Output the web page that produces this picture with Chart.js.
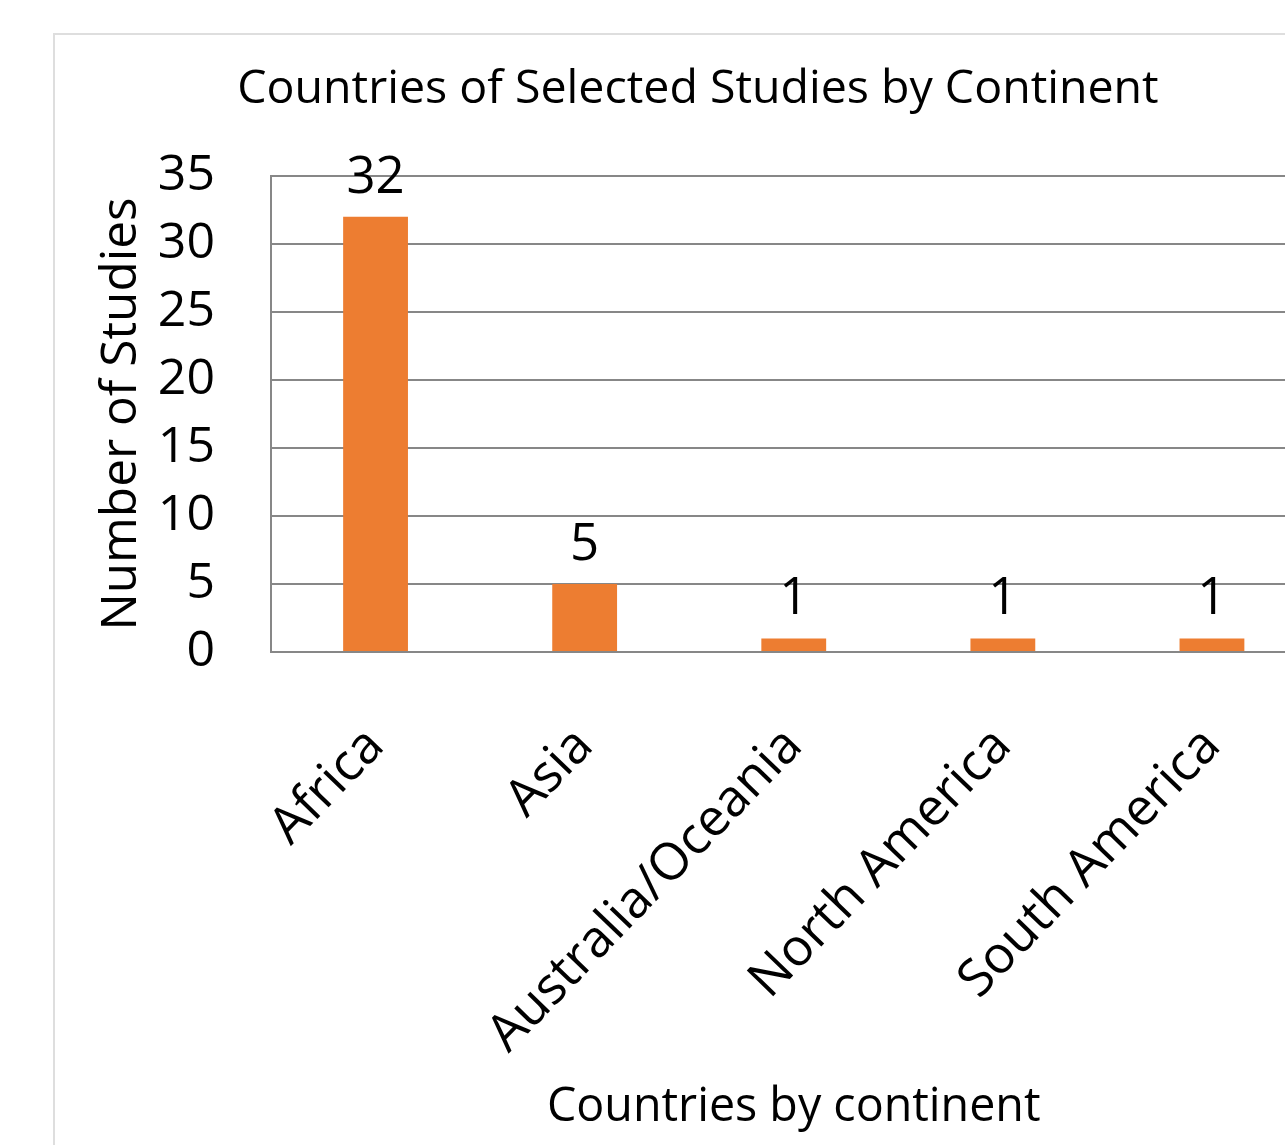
<!DOCTYPE html>
<html>
<head>
<meta charset="utf-8">
<title>Countries of Selected Studies by Continent</title>
<script src="https://cdn.jsdelivr.net/npm/chart.js@4/dist/chart.umd.min.js"></script>
<style>
  html, body { margin: 0; padding: 0; background: #ffffff; overflow: hidden; width: 1285px; height: 1145px; }
  #frame {
    position: absolute; left: 53px; top: 33px;
    width: 1300px; height: 1200px;
    border: 2px solid #dedede; box-sizing: border-box;
  }
  #wrap { position: absolute; left: 55px; top: 35px; width: 1286px; height: 1110px; }
</style>
</head>
<body>
<div id="frame"></div>
<div id="wrap"><canvas id="chart" width="1286" height="1110"></canvas></div>
<script>
// Studies per continent
const continents = ['Africa', 'Asia', 'Australia/Oceania', 'North America', 'South America'];
const studyCounts = [32, 5, 1, 1, 1];
const yTicks = [0, 5, 10, 15, 20, 25, 30, 35];

const FONT = '"Open Sans", "Noto Sans", sans-serif';
const GRID = '#878787';

// Value labels above each bar, positioned from the bar elements
const barValueLabels = {
  id: 'barValueLabels',
  afterDatasetsDraw(chart) {
    const ctx = chart.ctx;
    const meta = chart.getDatasetMeta(0);
    ctx.save();
    ctx.font = '51px ' + FONT;
    ctx.fillStyle = '#000000';
    ctx.textAlign = 'center';
    ctx.textBaseline = 'alphabetic';
    meta.data.forEach((bar, i) => {
      ctx.fillText(String(studyCounts[i]), bar.x, bar.y - 24);
    });
    ctx.restore();
  }
};

new Chart(document.getElementById('chart'), {
  type: 'bar',
  data: {
    labels: continents,
    datasets: [{
      data: studyCounts,
      backgroundColor: '#ED7D31',
      borderWidth: 0,
      categoryPercentage: 0.31,
      barPercentage: 1.0
    }]
  },
  options: {
    responsive: false,
    animation: false,
    layout: { padding: { left: 24.5, right: 24.5, top: 0, bottom: 0 } },
    plugins: {
      legend: { display: false },
      tooltip: { enabled: false },
      title: {
        display: true,
        text: 'Countries of Selected Studies by Continent',
        color: '#000000',
        font: { family: FONT, size: 46.5, weight: 'normal', lineHeight: 1.2 },
        padding: { top: 27.1, bottom: 58.1 }
      }
    },
    scales: {
      x: {
        grid: { display: false },
        border: { display: true, color: GRID, width: 2 },
        ticks: {
          color: '#000000',
          font: { family: FONT, size: 51.5 },
          minRotation: 46,
          maxRotation: 46,
          autoSkip: false,
          padding: 56,
          labelOffset: 0
        },
        title: {
          display: true,
          text: 'Countries by continent',
          color: '#000000',
          font: { family: FONT, size: 46.6, lineHeight: 1.2 },
          padding: { top: 0, bottom: 9 }
        },
        afterFit(scale) { scale.height = 493; }
      },
      y: {
        min: 0,
        max: 35,
        afterBuildTicks(scale) { scale.ticks = yTicks.map(v => ({ value: v })); },
        grid: { color: GRID, lineWidth: 2, drawTicks: false },
        border: { display: true, color: GRID, width: 2 },
        ticks: {
          color: '#000000',
          font: { family: FONT, size: 50 },
          padding: 56
        },
        title: {
          display: true,
          text: 'Number of Studies',
          color: '#000000',
          font: { family: FONT, size: 49.5, lineHeight: 1.2 },
          padding: { top: 12.8, bottom: 0 }
        },
        afterFit(scale) { scale.width = 191.5; }
      }
    }
  },
  plugins: [barValueLabels]
});
</script>
</body>
</html>
